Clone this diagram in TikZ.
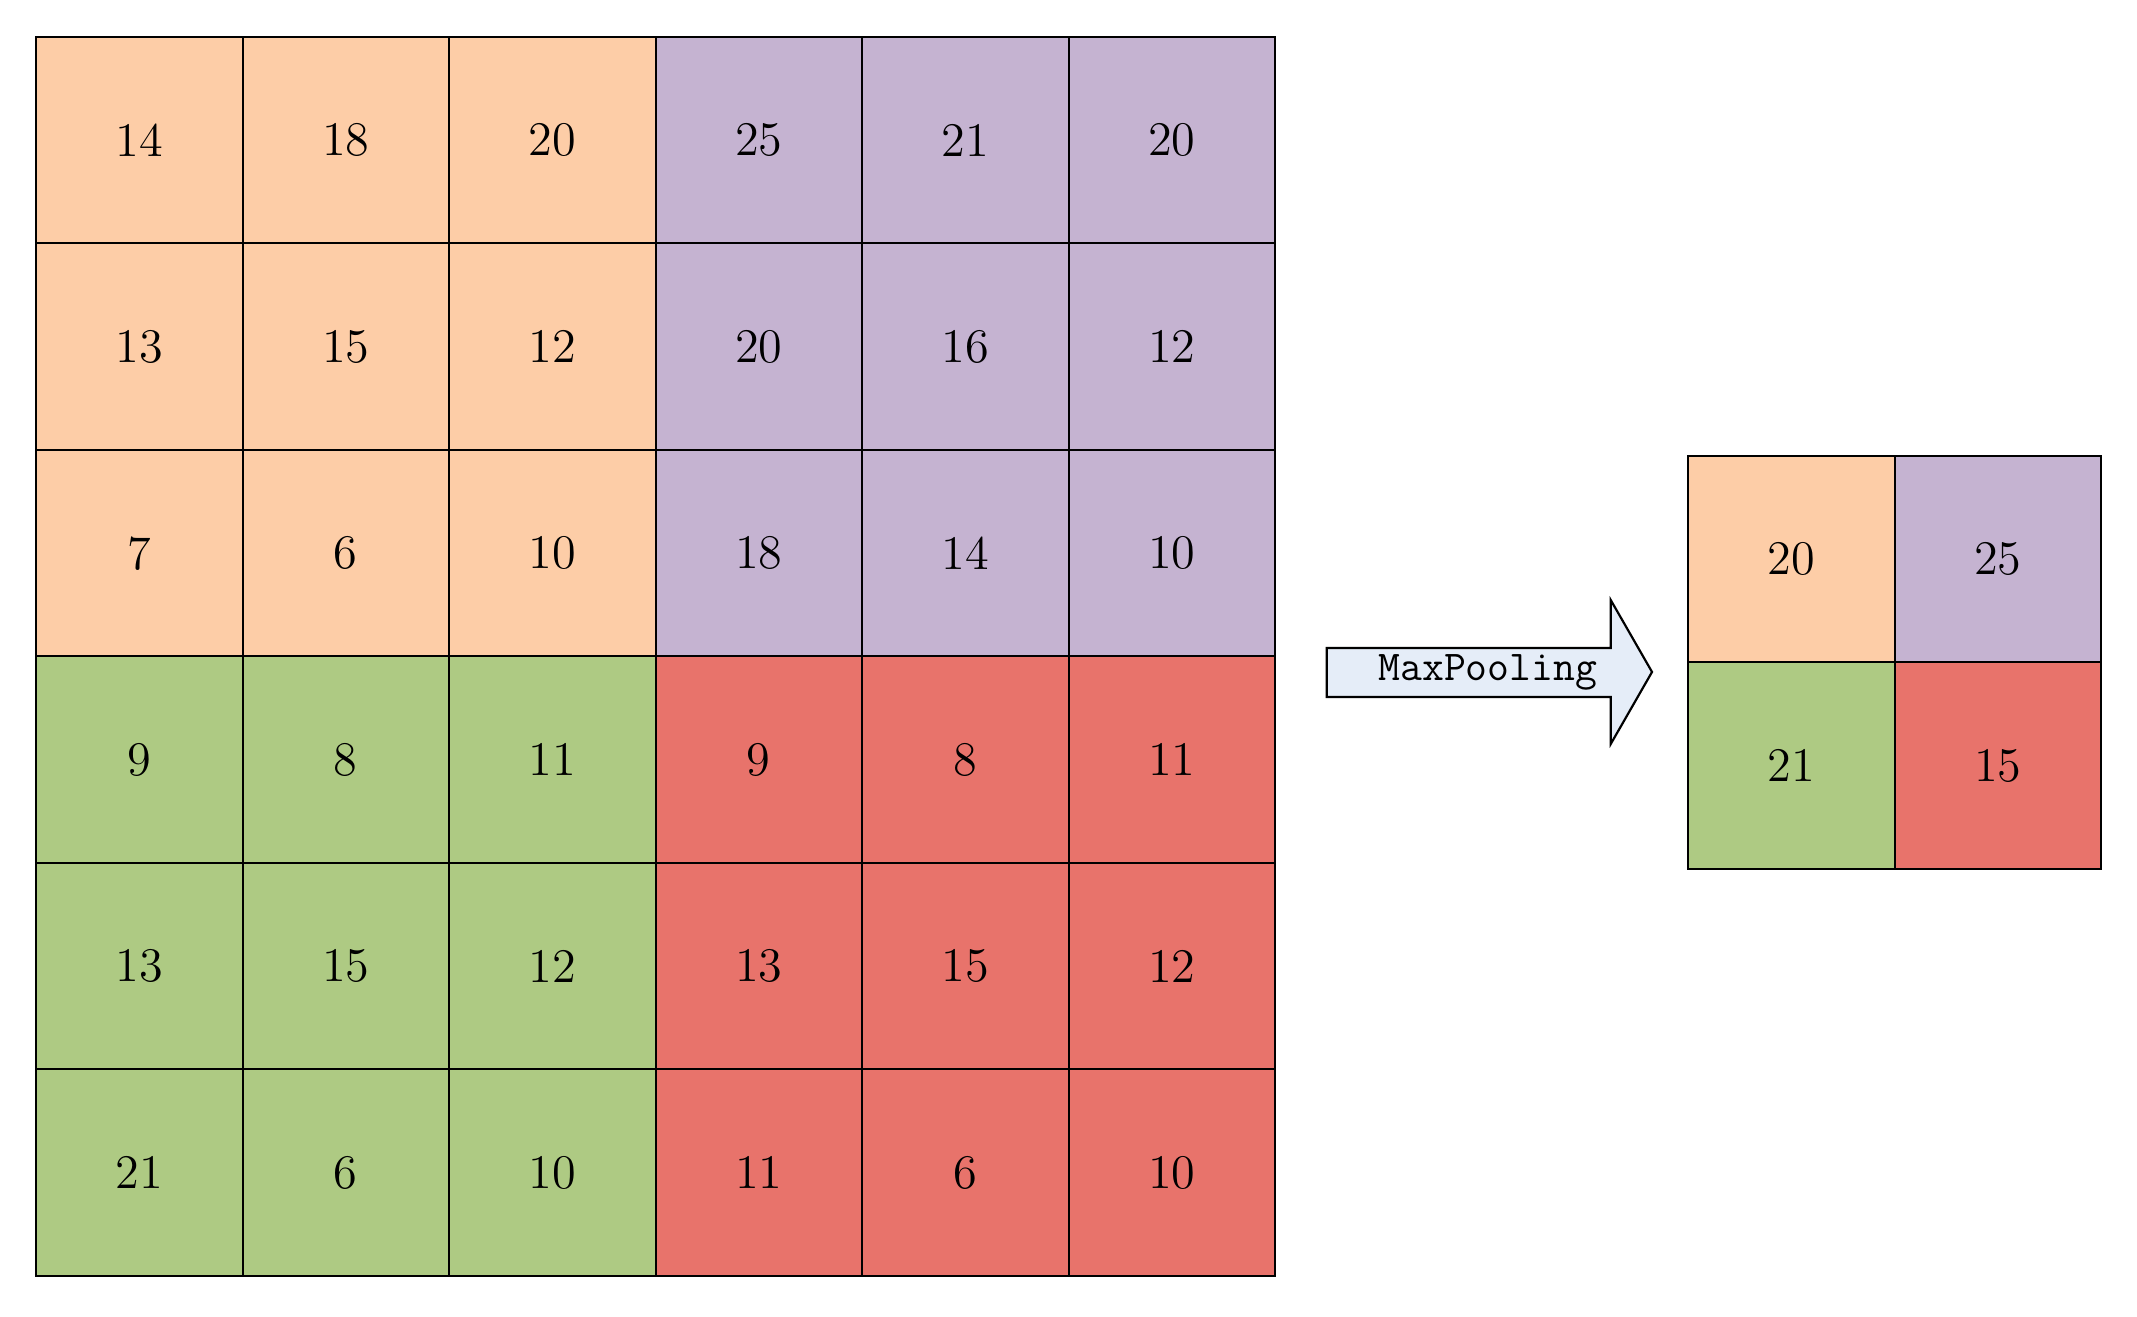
\documentclass[tikz,border=0pt]{standalone}
\usepackage{tikz}
\usepackage{xcolor}
\usetikzlibrary{positioning}

\definecolor{peach}{HTML}{FDCDA7}
\definecolor{lilac}{HTML}{C5B3D1}
\definecolor{leaf}{HTML}{AECA83}
\definecolor{coral}{HTML}{E8736B}
\definecolor{pale}{HTML}{E5EDF8}

\tikzset{
	cell/.style={draw=black, line width=0.55pt, minimum size=2cm, inner sep=0pt,
		font=\fontsize{13.3}{16}\selectfont},
	pooltext/.style={font=\ttfamily\fontsize{11.7}{14}\selectfont, inner sep=0pt}
}

\begin{document}
\begin{tikzpicture}
	\useasboundingbox (0,0) rectangle (20.697,-12.755);
	% input feature map
	\foreach \row/\vals in {0/{14,18,20,25,21,20}, 1/{13,15,12,20,16,12}, 2/{7,6,10,18,14,10},
		3/{9,8,11,9,8,11}, 4/{13,15,12,13,15,12}, 5/{21,6,10,11,6,10}}{
		\foreach \v [count=\col from 0] in \vals {
			\pgfmathtruncatemacro{\qr}{\row/3}
			\pgfmathtruncatemacro{\qc}{\col/3}
			\ifnum\qr=0 \ifnum\qc=0 \def\fc{peach}\else\def\fc{lilac}\fi
			\else \ifnum\qc=0 \def\fc{leaf}\else\def\fc{coral}\fi\fi
			\node[cell, fill=\fc] (in-\row-\col) at (1.349+2*\col, -1.358-2*\row) {\v};
		}
	}
	% pooled output
	\node[cell, fill=peach] (out-0-0) at (17.35,-5.416) {20};
	\node[cell, fill=lilac] (out-0-1) at ([xshift=2cm]out-0-0.center) {25};
	\node[cell, fill=leaf] (out-1-0) at ([yshift=-2cm]out-0-0.center) {21};
	\node[cell, fill=coral] (out-1-1) at ([xshift=2cm]out-1-0.center) {15};
	% arrow
	\draw[fill=pale, line width=0.6pt] (12.85,-6.276) -- (15.60,-6.276) -- (15.60,-5.811)
		-- (16.00,-6.508) -- (15.60,-7.206) -- (15.60,-6.750) -- (12.85,-6.750) -- cycle;
	\node[pooltext] (pool) at (14.41,-6.51) {MaxPooling};
\end{tikzpicture}
\end{document}
